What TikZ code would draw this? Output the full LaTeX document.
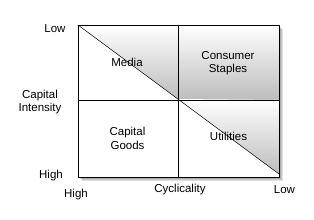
\documentclass[tikz,border=0pt]{standalone}
\usepackage{fontspec}
\setmainfont{Liberation Sans}

\begin{document}
\begin{tikzpicture}[x=1pt,y=-1pt,
  lbl/.style={font=\fontsize{11.5}{13.5}\selectfont,align=center,inner sep=0pt},
  shadebox/.style={top color=white,bottom color=black!26}]
\useasboundingbox (0,0) rectangle (314,220);
% soft shadow of the frame
\foreach \s in {1,2,3,4}{
  \fill[black,opacity=0.12] (78+\s,25+\s) rectangle (279+\s,177+\s);
}
\fill[white] (78,25) rectangle (279,177);
% shaded parts
\shade[shadebox] (178,25) rectangle (279,100);
\shade[shadebox] (78,25) -- (178,25) -- (178,99) -- cycle;
\shade[shadebox] (178,99) -- (279,100) -- (279,174) -- cycle;
\draw[line width=0.5pt] (78,25) -- (279,174);
\draw[line width=0.9pt] (78,25) rectangle (279,177);
\draw[line width=0.9pt] (178,25) -- (178,177);
\draw[line width=0.9pt] (78,100) -- (279,100);
% quadrant names
\node[lbl] (media) at (127,62) {Media};
\node[lbl] (staples) at (228,63) {Consumer\\Staples};
\node[lbl] (goods) at (127.5,138.5) {Capital\\Goods};
\node[lbl] (util) at (228.5,136.5) {Utilities};
% axis texts
\node[lbl] (ylow) at (55,29) {Low};
\node[lbl] (yname) at (40,102) {Capital\\Intensity};
\node[lbl] (yhigh) at (51,176) {High};
\node[lbl] (xhigh) at (76,195) {High};
\node[lbl] (xname) at (180,190) {Cyclicality};
\node[lbl] (xlow) at (284.5,190) {Low};
\end{tikzpicture}
\end{document}
